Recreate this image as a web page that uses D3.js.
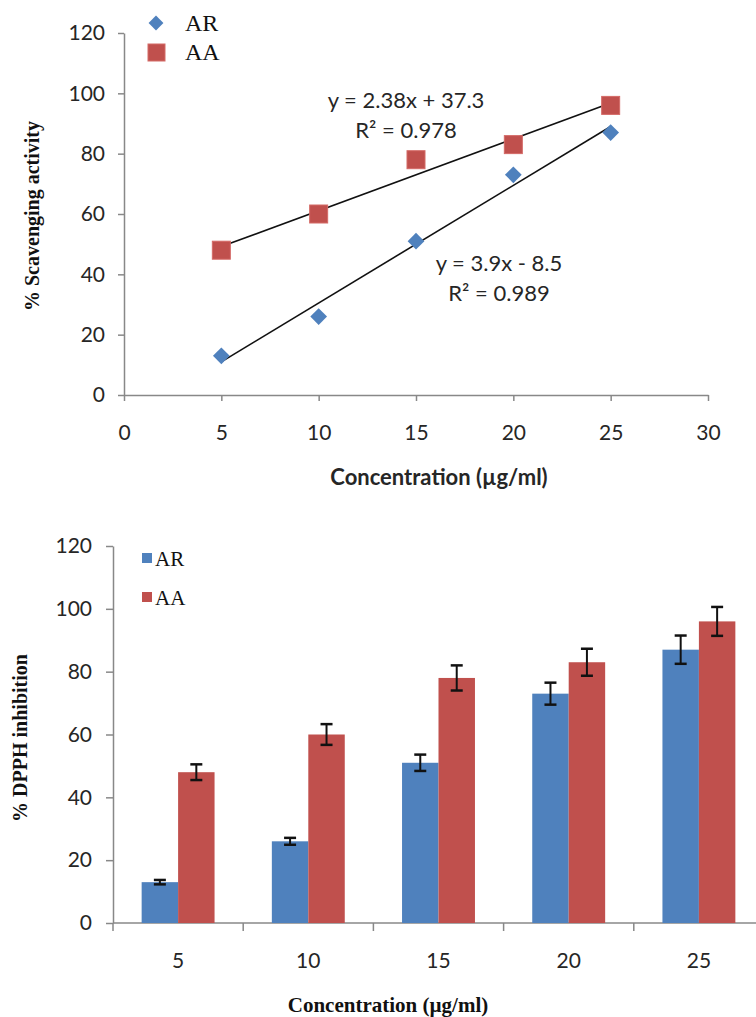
<!DOCTYPE html>
<html>
<head>
<meta charset="utf-8">
<script src="https://cdn.jsdelivr.net/npm/d3@7"></script>
<style>
  body { margin: 0; background: #fff; }
  .tick text { font-family: Lato, "Open Sans", sans-serif; font-size: 21px; fill: #262626; }
  .axis path, .axis line { stroke: #888; stroke-width: 1.5; }
</style>
</head>
<body>
<svg id="chart" width="756" height="1017"></svg>
<script>
// concentrations (µg/ml)
const concentrations = [5, 10, 15, 20, 25];
const seriesNames = ['AR', 'AA'];
const arValues = [13, 26, 51, 73, 87];
const aaValues = [48, 60, 78, 83, 96];
const arErrors = [0.7, 1.1, 2.6, 3.5, 4.5];
const aaErrors = [2.5, 3.3, 4, 4.3, 4.6];
const yTicks = [0, 20, 40, 60, 80, 100, 120];
const xTicksTop = [0, 5, 10, 15, 20, 25, 30];

const colors = { AR: '#4F81BD', AA: '#C0504D' };
const svg = d3.select('#chart');

function fit(xs, ys) {
  const mx = d3.mean(xs), my = d3.mean(ys);
  const slope = d3.sum(xs, (x, i) => (x - mx) * (ys[i] - my)) / d3.sum(xs, x => (x - mx) ** 2);
  const intercept = my - slope * mx;
  const r2 = 1 - d3.sum(xs, (x, i) => (ys[i] - (slope * x + intercept)) ** 2) / d3.sum(ys, y => (y - my) ** 2);
  return { slope, intercept, r2 };
}

// ---------- top: scatter with trendlines ----------
const scat = svg.append('g');
const x1 = d3.scaleLinear().domain([0, 30]).range([124, 708]);
const y1 = d3.scaleLinear().domain([0, 120]).range([395, 33]);

scat.append('g').attr('class', 'axis')
  .attr('transform', 'translate(124,0)')
  .call(d3.axisLeft(y1).tickValues(yTicks).tickSize(6).tickSizeOuter(0).tickPadding(13));
scat.append('g').attr('class', 'axis')
  .attr('transform', 'translate(0,395)')
  .call(d3.axisBottom(x1).tickValues(xTicksTop).tickSize(6).tickSizeOuter(0).tickPadding(24));

const series = [
  { name: 'AR', values: arValues, eqPos: [499, 263] },
  { name: 'AA', values: aaValues, eqPos: [406, 100] }
];

series.forEach(s => {
  const f = fit(concentrations, s.values);
  const xs = d3.extent(concentrations);
  scat.append('line')
    .attr('x1', x1(xs[0])).attr('y1', y1(f.slope * xs[0] + f.intercept))
    .attr('x2', x1(xs[1])).attr('y2', y1(f.slope * xs[1] + f.intercept))
    .attr('stroke', '#111').attr('stroke-width', 1.6);

  const sign = f.intercept < 0 ? '- ' : '+ ';
  const eq = scat.append('text')
    .attr('text-anchor', 'middle')
    .attr('font-family', 'Lato, sans-serif').attr('font-size', 22).attr('fill', '#262626');
  eq.append('tspan').attr('x', s.eqPos[0]).attr('y', s.eqPos[1] + 8)
    .text('y = ' + (+f.slope.toFixed(2)) + 'x ' + sign + Math.abs(f.intercept).toFixed(1));
  eq.append('tspan').attr('x', s.eqPos[0]).attr('y', s.eqPos[1] + 38)
    .text('R² = ' + f.r2.toFixed(3));
});

const sym = d3.symbol();
scat.selectAll('.pt-ar').data(arValues).join('path')
  .attr('transform', (d, i) => `translate(${x1(concentrations[i])},${y1(d)}) rotate(45)`)
  .attr('d', sym.type(d3.symbolSquare).size(140)())
  .attr('fill', colors.AR);
scat.selectAll('.pt-aa').data(aaValues).join('rect')
  .attr('x', (d, i) => x1(concentrations[i]) - 9).attr('y', d => y1(d) - 9)
  .attr('width', 18).attr('height', 18)
  .attr('fill', colors.AA).attr('stroke', '#d46a67').attr('stroke-width', 1);

// legend
const lg1 = scat.append('g');
lg1.append('path').attr('transform', 'translate(156,23) rotate(45)')
  .attr('d', sym.type(d3.symbolSquare).size(110)()).attr('fill', colors.AR);
lg1.append('rect').attr('x', 148).attr('y', 44).attr('width', 17).attr('height', 17)
  .attr('fill', colors.AA).attr('stroke', '#d46a67');
seriesNames.forEach((n, i) => {
  lg1.append('text').attr('x', 185).attr('y', 31 + i * 29)
    .attr('font-family', '"Liberation Serif", serif').attr('font-size', 24).attr('fill', '#111').text(n);
});

scat.append('text').attr('x', 439).attr('y', 485).attr('text-anchor', 'middle')
  .attr('font-family', 'Lato, sans-serif').attr('font-weight', 'bold').attr('font-size', 22).attr('fill', '#262626')
  .text('Concentration (µg/ml)');
scat.append('text').attr('transform', 'translate(39,216) rotate(-90)').attr('text-anchor', 'middle')
  .attr('font-family', '"Liberation Serif", serif').attr('font-weight', 'bold').attr('font-size', 20).attr('fill', '#111')
  .text('% Scavenging activity');

// ---------- bottom: grouped bars ----------
const bot = svg.append('g');
const x0 = d3.scaleBand().domain(concentrations).range([113, 764]).paddingInner(0.44).paddingOuter(0.22);
const xs2 = d3.scaleBand().domain(seriesNames).range([0, x0.bandwidth()]);
const y2 = d3.scaleLinear().domain([0, 120]).range([923, 546]);

bot.append('g').attr('class', 'axis')
  .attr('transform', 'translate(113,0)')
  .call(d3.axisLeft(y2).tickValues(yTicks).tickSize(7).tickSizeOuter(0).tickPadding(14));
const xAxis = bot.append('g').attr('class', 'axis')
  .attr('transform', 'translate(0,923)')
  .call(d3.axisBottom(x0).tickSize(0).tickPadding(30));
xAxis.select('.domain').attr('d', 'M113,0H756');
const bounds = d3.range(concentrations.length + 1).map(i => x0.range()[0] + i * x0.step());
xAxis.selectAll('.bound').data(bounds.filter(b => b < 756)).join('line')
  .attr('x1', d => d).attr('x2', d => d).attr('y1', 0).attr('y2', 8);

const rows = concentrations.map((c, i) => ({
  c, bars: [
    { name: 'AR', v: arValues[i], e: arErrors[i] },
    { name: 'AA', v: aaValues[i], e: aaErrors[i] }
  ]
}));
const grp = bot.selectAll('.grp').data(rows).join('g')
  .attr('transform', d => `translate(${x0(d.c)},0)`);
grp.selectAll('rect').data(d => d.bars).join('rect')
  .attr('x', d => xs2(d.name)).attr('y', d => y2(d.v))
  .attr('width', xs2.bandwidth()).attr('height', d => y2(0) - y2(d.v))
  .attr('fill', d => colors[d.name]);
const eb = grp.selectAll('.err').data(d => d.bars).join('g')
  .attr('stroke', '#111').attr('stroke-width', 2);
eb.append('line')
  .attr('x1', d => xs2(d.name) + xs2.bandwidth() / 2).attr('x2', d => xs2(d.name) + xs2.bandwidth() / 2)
  .attr('y1', d => y2(d.v + d.e)).attr('y2', d => y2(d.v - d.e));
[1, -1].forEach(k => {
  eb.append('line')
    .attr('x1', d => xs2(d.name) + xs2.bandwidth() / 2 - 6).attr('x2', d => xs2(d.name) + xs2.bandwidth() / 2 + 6)
    .attr('y1', d => y2(d.v + k * d.e)).attr('y2', d => y2(d.v + k * d.e)).attr('stroke-width', 2.5);
});

const lg2 = bot.append('g');
seriesNames.forEach((n, i) => {
  lg2.append('rect').attr('x', 142).attr('y', 553 + i * 39).attr('width', 10).attr('height', 10).attr('fill', colors[n]);
  lg2.append('text').attr('x', 155).attr('y', 566 + i * 39)
    .attr('font-family', '"Liberation Serif", serif').attr('font-size', 21).attr('fill', '#111').text(n);
});

bot.append('text').attr('x', 388).attr('y', 1012).attr('text-anchor', 'middle')
  .attr('font-family', '"Liberation Serif", serif').attr('font-weight', 'bold').attr('font-size', 21).attr('fill', '#111')
  .text('Concentration (µg/ml)');
bot.append('text').attr('transform', 'translate(27,738) rotate(-90)').attr('text-anchor', 'middle')
  .attr('font-family', '"Liberation Serif", serif').attr('font-weight', 'bold').attr('font-size', 20).attr('fill', '#111')
  .text('% DPPH inhibition');
</script>
</body>
</html>
